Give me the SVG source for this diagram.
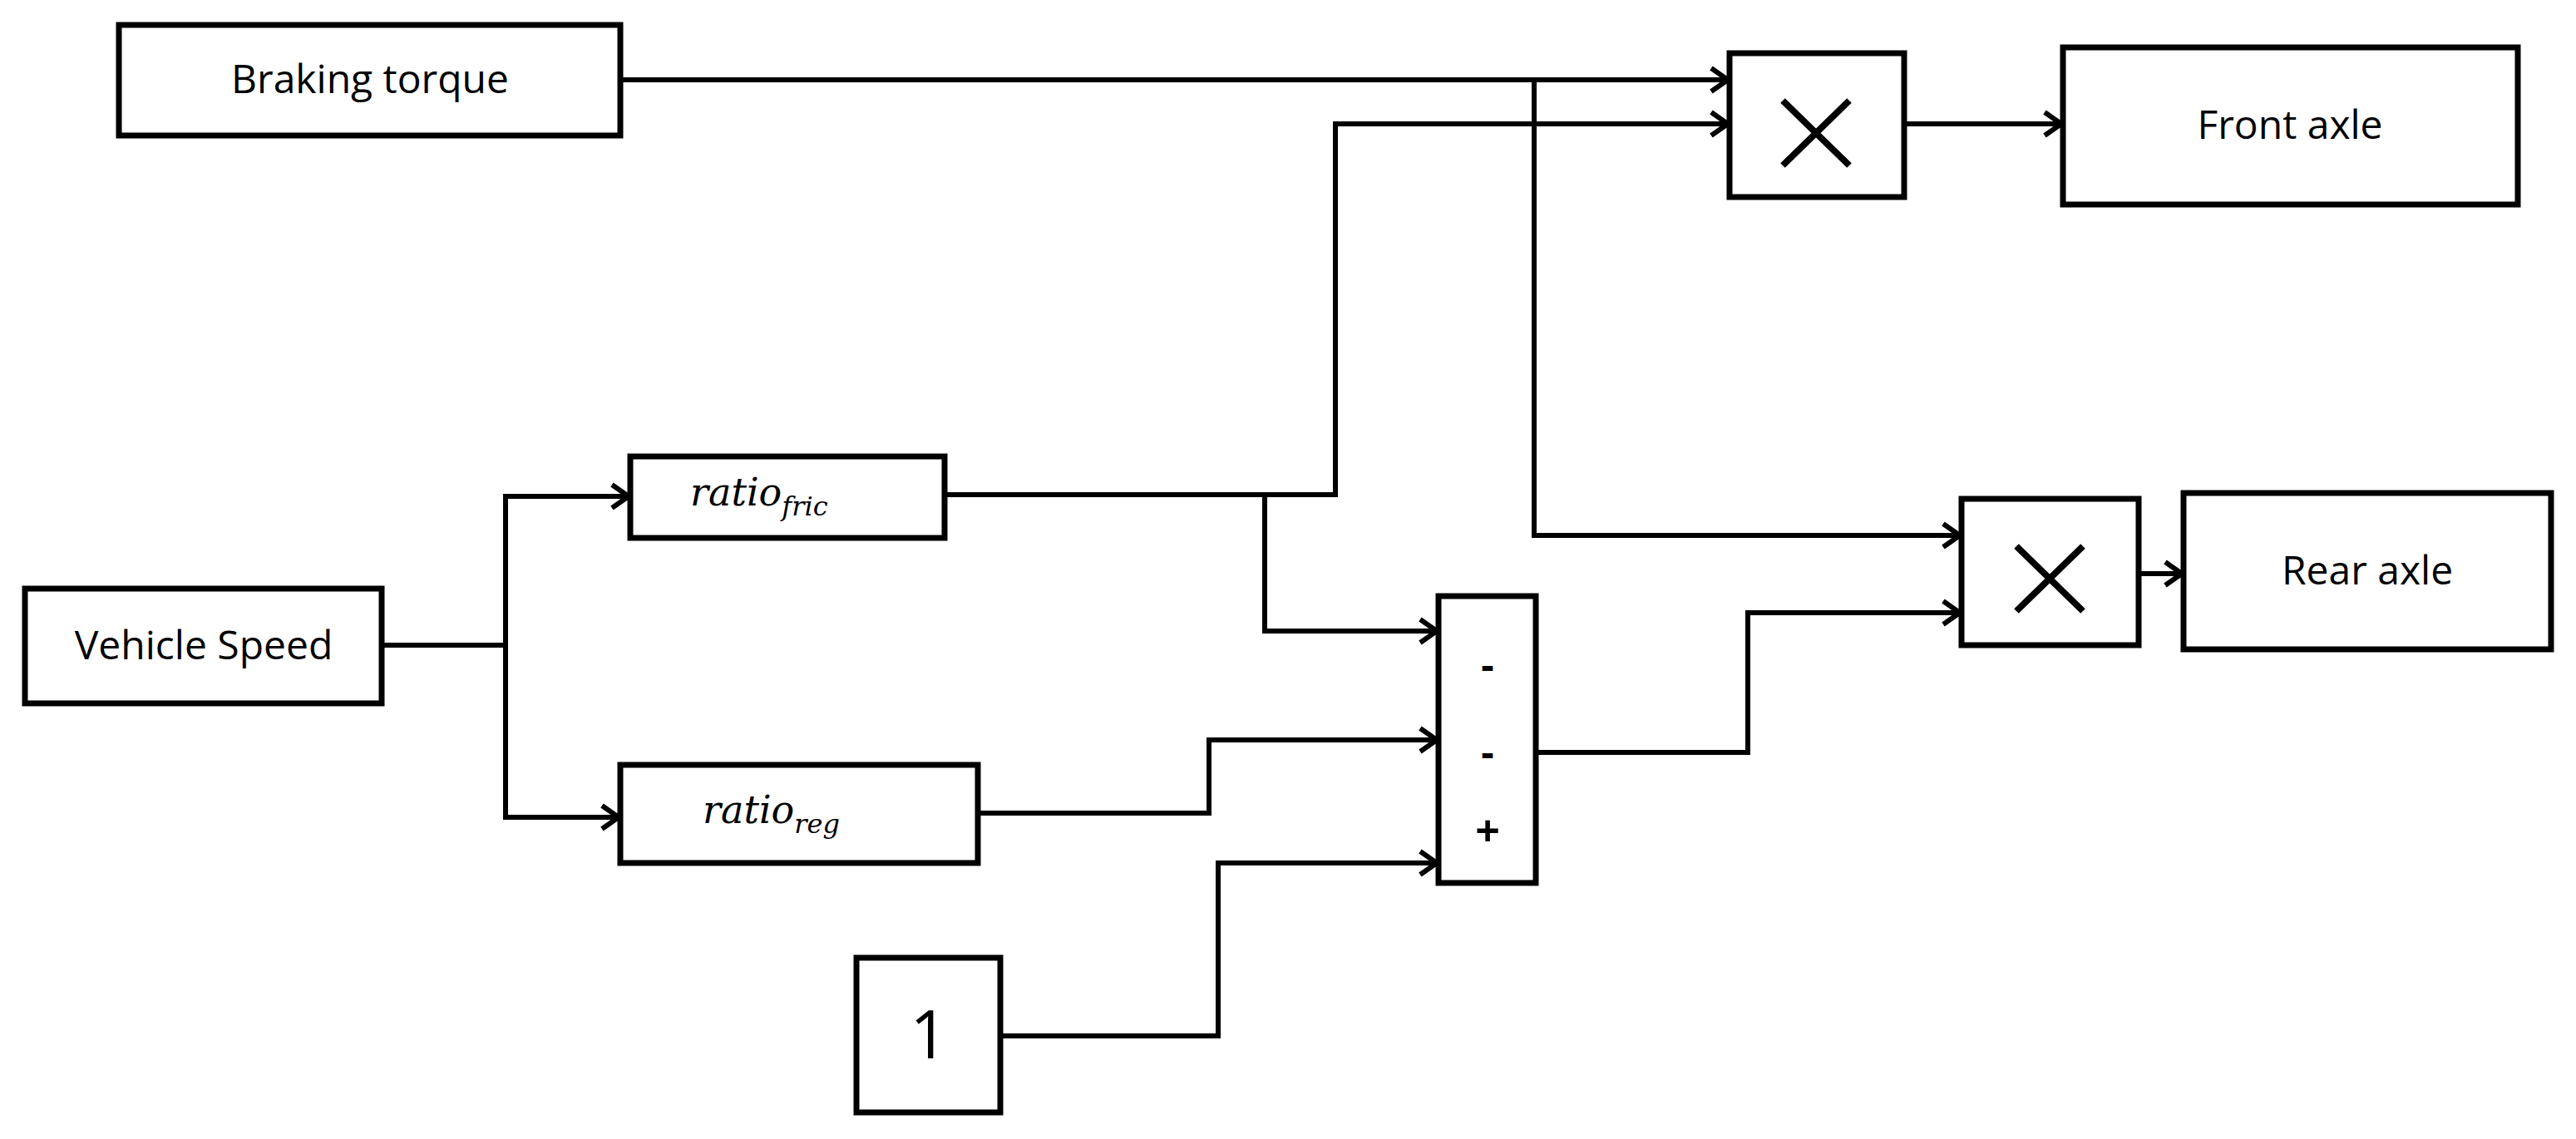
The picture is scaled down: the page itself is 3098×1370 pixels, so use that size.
<svg xmlns="http://www.w3.org/2000/svg" width="3098" height="1370" viewBox="0 0 3098 1370">
<defs>
<marker id="ah" markerUnits="userSpaceOnUse" markerWidth="40" markerHeight="40" refX="26" refY="20" orient="auto" viewBox="0 0 40 40">
<polyline points="6,6 26,20 6,34" fill="none" stroke="#000" stroke-width="6"/>
</marker>
<style>
.box{fill:#fff;stroke:#000;stroke-width:7}
.ln{fill:none;stroke:#000;stroke-width:6}
.ar{marker-end:url(#ah)}
.t{font-family:"Open Sans","Liberation Sans",sans-serif;font-size:48px;text-anchor:middle;fill:#000}
.m{font-family:"DejaVu Serif","Liberation Serif",serif;font-style:italic;fill:#000}
.x{stroke:#000;stroke-width:8;fill:none}
</style>
</defs>
<rect width="3098" height="1370" fill="#fff"/>
<g id="connectors">
<path class="ln ar" d="M747,96 H2078"/>
<path class="ln ar" d="M1136,595 H1606 V149 H2078"/>
<path class="ln ar" d="M1845,96 V644 H2357"/>
<path class="ln ar" d="M459,776 H608 V597 H756"/>
<path class="ln ar" d="M608,776 V983 H744"/>
<path class="ln ar" d="M1521,595 V759 H1728"/>
<path class="ln ar" d="M1176,978 H1454 V890 H1728"/>
<path class="ln ar" d="M1203,1246 H1465 V1038 H1728"/>
<path class="ln ar" d="M1847,905 H2102 V737 H2357"/>
<path class="ln ar" d="M2290,149 H2479"/>
<path class="ln ar" d="M2572,690 H2624"/>
</g>
<g id="braking"><rect class="box" x="143" y="30" width="603" height="133"/><text class="t" x="445" y="112">Braking torque</text></g>
<g id="speed"><rect class="box" x="30" y="708" width="429" height="138"/><text class="t" x="245" y="793">Vehicle Speed</text></g>
<g id="fric"><rect class="box" x="758" y="549" width="378" height="98"/><text class="m" x="830" y="608" font-size="46">ratio<tspan font-size="32" dy="12">fric</tspan></text></g>
<g id="reg"><rect class="box" x="746" y="920" width="430" height="118"/><text class="m" x="845" y="990" font-size="46">ratio<tspan font-size="32" dy="12">reg</tspan></text></g>
<g id="one"><rect class="box" x="1030" y="1152" width="173" height="186"/><text class="t" x="1117" y="1273" style="font-size:80px">1</text></g>
<g id="sum"><rect class="box" x="1730" y="717" width="117" height="345"/>
<text class="t" x="1789" y="817" style="font-weight:bold">-</text>
<text class="t" x="1789" y="922" style="font-weight:bold">-</text>
<text class="t" x="1789" y="1018" style="font-weight:bold;font-size:52px">+</text></g>
<g id="mult1"><rect class="box" x="2080" y="64" width="210" height="173"/><path class="x" d="M2144,121 L2224,199 M2224,121 L2144,199"/></g>
<g id="mult2"><rect class="box" x="2359" y="600" width="213" height="176"/><path class="x" d="M2425,657 L2505,735 M2505,657 L2425,735"/></g>
<g id="front"><rect class="box" x="2481" y="57" width="547" height="189"/><text class="t" x="2754" y="167">Front axle</text></g>
<g id="rear"><rect class="box" x="2626" y="593" width="442" height="188"/><text class="t" x="2847" y="703">Rear axle</text></g>
</svg>
